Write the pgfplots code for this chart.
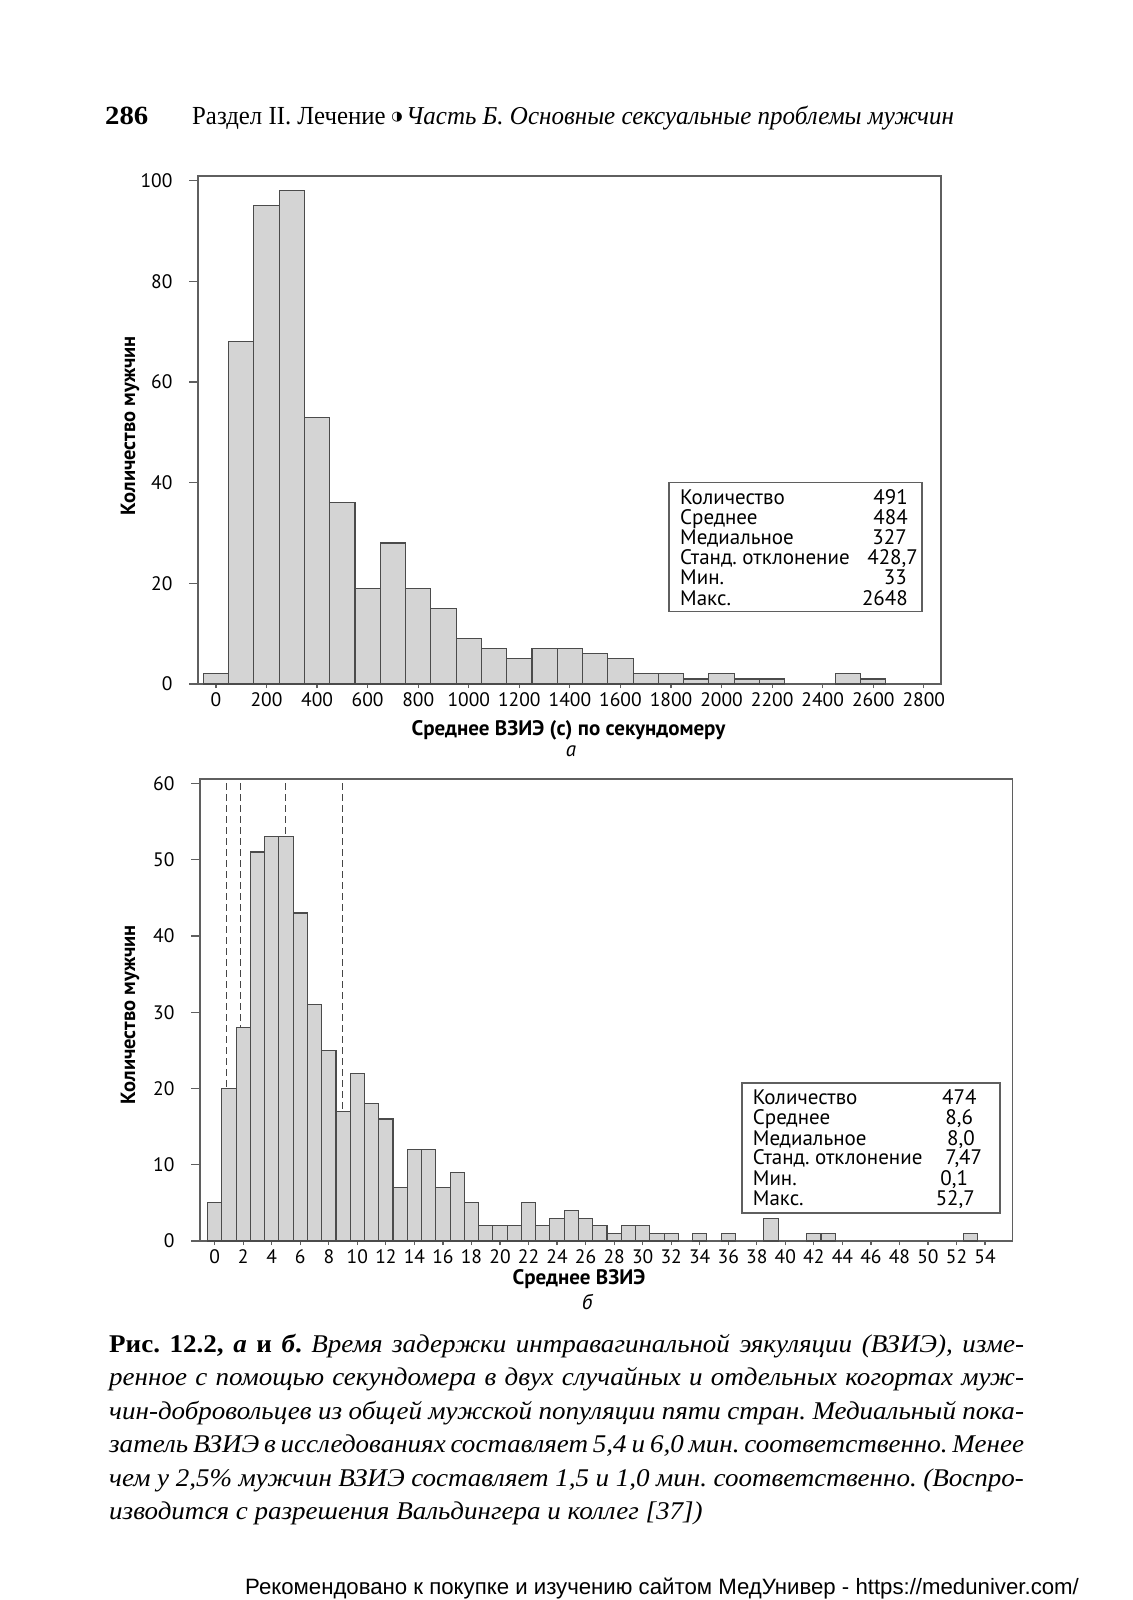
\documentclass[border=0pt]{standalone}
\usepackage{fontspec}
\setmainfont{Liberation Serif}
\newfontfamily\chartfont{PT Sans}
\newfontfamily\footfont{Liberation Sans}
\newfontfamily\symfont{DejaVu Sans}
\usepackage{pgfplots}
\pgfplotsset{compat=1.18}
\frenchspacing

\definecolor{barfill}{RGB}{212,212,212}
\definecolor{baredge}{RGB}{75,75,75}
\definecolor{axisgray}{RGB}{95,95,95}

\pgfplotsset{
  histo/.style={
    scale only axis,
    axis line style={axisgray, line width=1.3pt},
    tick style={axisgray, line width=1.2pt},
    tick align=outside,
    tick pos=left,
    major tick length=9pt,
    xtick style={/pgfplots/major tick length=4pt},
    minor tick num=0,
    ymin=0,
    ticklabel style={font=\chartfont\fontsize{19.5}{19.5}\selectfont},
    xticklabel style={yshift=4pt},
    yticklabel style={xshift=-13pt},
    /pgf/number format/assume math mode=true,
    /pgf/number format/1000 sep={},
    clip=false,
  },
  hbar/.style={ybar, fill=barfill, draw=baredge, line width=1.1pt},
  dline/.style={color={rgb,255:red,70;green,70;blue,70}, line width=1.3pt, dash pattern=on 7pt off 4pt},
}

\begin{document}
\begin{tikzpicture}[x=1pt,y=1pt]
\path[use as bounding box] (0,0) rectangle (1132,-1600);

% header
\node[anchor=base west, inner sep=0] at (105,-124.5) {\scalebox{1.15}[1.05]{\fontsize{25}{25}\selectfont\bfseries 286}};
\node[anchor=base west, inner sep=0] at (192,-124.5) {\scalebox{1.0}[1.05]{\fontsize{24.8}{24.8}\selectfont Раздел II. Лечение}};
\node[inner sep=0] at (397,-117) {\symfont\fontsize{13}{13}\selectfont ◑};
\node[anchor=base west, inner sep=0] at (406,-124.5) {\scalebox{1.0}[1.03]{\fontsize{25}{25}\selectfont\itshape Часть Б. Основные сексуальные проблемы мужчин}};

% ---------- chart a ----------
\begin{axis}[histo,
  at={(198pt,-684pt)}, anchor=south west,
  width=743pt, height=508pt,
  xmin=-71, xmax=2868, ymax=100.9,
  xtick={0,200,...,2800}, ytick={0,20,...,100},
]
\addplot[hbar, bar width=100] coordinates {
(0,2) (100,68) (200,95) (300,98) (400,53) (500,36) (600,19) (700,28)
(800,19) (900,15) (1000,9) (1100,7) (1200,5) (1300,7) (1400,7) (1500,6)
(1600,5) (1700,2) (1800,2) (1900,1) (2000,2) (2100,1) (2200,1) (2500,2) (2600,1)
};
\end{axis}

\draw[axisgray, line width=1.2pt] (669,-482.7) rectangle (922,-611.7);
\begin{scope}[every node/.style={inner sep=0, font=\chartfont\fontsize{21}{21}\selectfont}]
\node[anchor=base west] at (680,-504) {Количество};
\node[anchor=base west] at (680,-524.5) {Среднее};
\node[anchor=base west] at (680,-544) {Медиальное};
\node[anchor=base west] at (680,-564) {Станд. отклонение};
\node[anchor=base west] at (680,-584.5) {Мин.};
\node[anchor=base west] at (680,-605) {Макс.};
\node[anchor=base east] at (908,-504) {491};
\node[anchor=base east] at (908,-524.5) {484};
\node[anchor=base east] at (907,-544) {327};
\node[anchor=base east] at (918,-564) {428,7};
\node[anchor=base east] at (907,-584.5) {33};
\node[anchor=base east] at (908,-605) {2648};
\end{scope}

\node[inner sep=0, rotate=90] at (130,-426) {\chartfont\bfseries\fontsize{20.5}{20.5}\selectfont Количество мужчин};
\node[inner sep=0] at (568.5,-730) {\chartfont\bfseries\fontsize{21}{21}\selectfont Среднее ВЗИЭ (с) по секундомеру};
\node[inner sep=0] at (571,-751) {\chartfont\itshape\fontsize{21}{21}\selectfont а};

% ---------- chart b ----------
\begin{axis}[histo,
  at={(200pt,-1241pt)}, anchor=south west,
  width=812.7pt, height=462pt,
  xmin=-1.03, xmax=55.94, ymax=60.57,
  xtick={0,2,...,54}, ytick={0,10,...,60},
]
\addplot[hbar, bar width=1] coordinates {
(0,5) (1,20) (2,28) (3,51) (4,53) (5,53) (6,43) (7,31) (8,25) (9,17)
(10,22) (11,18) (12,16) (13,7) (14,12) (15,12) (16,7) (17,9) (18,5) (19,2)
(20,2) (21,2) (22,5) (23,2) (24,3) (25,4) (26,3) (27,2) (28,1) (29,2)
(30,2) (31,1) (32,1) (34,1) (36,1) (39,3) (42,1) (43,1) (53,1)
};
\addplot[dline] coordinates {(0.83,60) (0.83,20)};
\addplot[dline] coordinates {(1.82,60) (1.82,28)};
\addplot[dline] coordinates {(4.95,60) (4.95,53)};
\addplot[dline] coordinates {(8.96,60) (8.96,17)};
\end{axis}

\draw[axisgray, line width=1.2pt] (742,-1083) rectangle (1000,-1213);
\begin{scope}[every node/.style={inner sep=0, font=\chartfont\fontsize{21}{21}\selectfont}]
\node[anchor=base west] at (752.7,-1104) {Количество};
\node[anchor=base west] at (752.7,-1124.6) {Среднее};
\node[anchor=base west] at (752.7,-1145) {Медиальное};
\node[anchor=base west] at (752.7,-1164.5) {Станд. отклонение};
\node[anchor=base west] at (752.7,-1185) {Мин.};
\node[anchor=base west] at (752.7,-1205) {Макс.};
\node[anchor=base east] at (976.7,-1104) {474};
\node[anchor=base east] at (973.3,-1124.6) {8,6};
\node[anchor=base east] at (975,-1145) {8,0};
\node[anchor=base east] at (982.3,-1164.5) {7,47};
\node[anchor=base east] at (968.3,-1185) {0,1};
\node[anchor=base east] at (975,-1205) {52,7};
\end{scope}

\node[inner sep=0, rotate=90] at (130,-1015) {\chartfont\bfseries\fontsize{20.5}{20.5}\selectfont Количество мужчин};
\node[inner sep=0] at (579,-1279) {\chartfont\bfseries\fontsize{21}{21}\selectfont Среднее ВЗИЭ};
\node[inner sep=0] at (587,-1302) {\chartfont\itshape\fontsize{21}{21}\selectfont б};

% ---------- caption ----------
\begin{scope}[every node/.style={inner sep=0, anchor=base west, font=\fontsize{25.5}{25.5}\selectfont}]
\node at (109,-1352) {\scalebox{1.06}[1]{\makebox[863pt][s]{\textbf{Рис. 12.2, \textit{а} и \textit{б}.} \textit{Время задержки интравагинальной эякуляции (ВЗИЭ), изме-}}}};
\node at (109,-1385) {\scalebox{1.06}[1]{\makebox[863pt][s]{\itshape ренное с помощью секундомера в двух случайных и отдельных когортах муж-}}};
\node at (109,-1419) {\scalebox{1.06}[1]{\makebox[863pt][s]{\itshape чин-добровольцев из общей мужской популяции пяти стран. Медиальный пока-}}};
\node at (109,-1452) {\scalebox{1.06}[1]{\makebox[863pt][s]{\itshape затель ВЗИЭ в исследованиях составляет 5,4 и 6,0 мин. соответственно. Менее}}};
\node at (109,-1486) {\scalebox{1.06}[1]{\makebox[863pt][s]{\itshape чем у 2,5\% мужчин ВЗИЭ составляет 1,5 и 1,0 мин. соответственно. (Воспро-}}};
\node at (109,-1519) {\scalebox{1.06}[1]{\itshape изводится с разрешения Вальдингера и коллег [37])}};
\end{scope}

% footer
\node[inner sep=0, anchor=base] at (662,-1594) {\footfont\fontsize{22.2}{22.2}\selectfont Рекомендовано к покупке и изучению сайтом МедУнивер - https://meduniver.com/};
\end{tikzpicture}
\end{document}
